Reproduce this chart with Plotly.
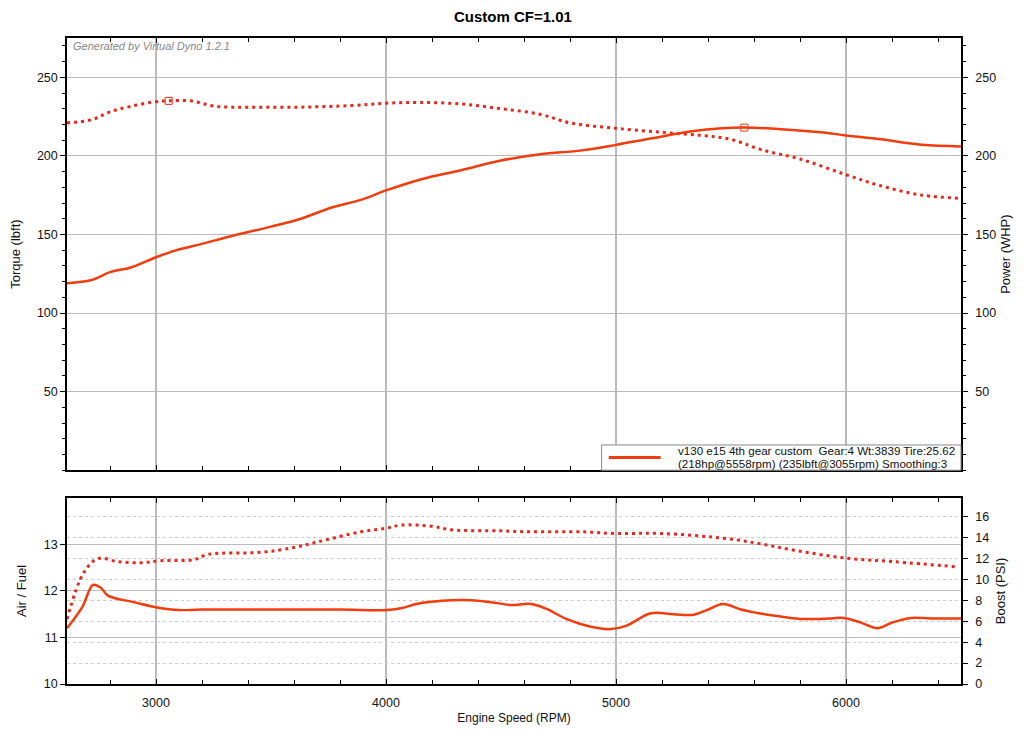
import plotly.graph_objects as go

# engine speed (rpm) and readings for the top panel
rpm_power = [2613, 2720, 2800, 2890, 3000, 3090, 3200, 3330, 3500, 3630, 3760, 3890, 4000,
             4150, 4330, 4500, 4670, 4850, 5000, 5150, 5330, 5460, 5558, 5720, 5890, 6000,
             6150, 6330, 6500]
power_whp = [119, 121, 126, 129, 135.5, 140, 144, 149, 155, 160, 167, 172, 178,
             185, 191, 197, 201, 203.5, 207, 211, 215.6, 217.5, 218, 217, 215, 213,
             210.5, 207, 206]

rpm_torque = [2613, 2720, 2800, 2890, 3000, 3055, 3150, 3260, 3410, 3630, 3850, 4000,
              4150, 4330, 4500, 4670, 4800, 5000, 5200, 5370, 5500, 5630, 5800, 6000,
              6150, 6330, 6500]
torque_lbft = [221, 223, 228, 231.5, 234.5, 235, 235, 231.5, 231, 231, 232, 233.5,
               234, 233, 230, 226.5, 221, 217.5, 215, 213, 210.5, 204, 198, 188,
               181, 175, 173]

# bottom panel: air/fuel ratio and boost
rpm_afr = [2613, 2680, 2726, 2760, 2791, 2904, 3009, 3096, 3200, 3500, 3800, 4000, 4065,
           4152, 4283, 4370, 4457, 4543, 4630, 4696, 4783, 4891, 4978, 5043, 5152,
           5250, 5339, 5400, 5465, 5543, 5600, 5700, 5800, 5935, 5991, 6065, 6139,
           6200, 6283, 6370, 6500]
air_fuel = [11.2, 11.66, 12.13, 12.07, 11.9, 11.76, 11.64, 11.59, 11.6, 11.6, 11.6, 11.59, 11.63,
            11.74, 11.8, 11.8, 11.76, 11.7, 11.72, 11.62, 11.4, 11.23, 11.18, 11.25, 11.52,
            11.5, 11.49, 11.6, 11.72, 11.6, 11.54, 11.46, 11.4, 11.41, 11.42, 11.32, 11.2,
            11.32, 11.42, 11.41, 11.41]

rpm_boost = [2613, 2687, 2748, 2835, 2935, 3022, 3165, 3226, 3457, 3600, 3704, 3891, 4000,
             4065, 4196, 4283, 4500, 4630, 4850, 5000, 5196, 5487, 5630, 5774, 5991,
             6209, 6487]
boost_psi = [6.2, 10.7, 12.0, 11.7, 11.6, 11.8, 11.9, 12.4, 12.6, 13.06, 13.6, 14.56, 14.9,
             15.2, 15.1, 14.75, 14.65, 14.56, 14.56, 14.4, 14.4, 13.9, 13.4, 12.8, 12.07,
             11.7, 11.2]

legend_lines = ["v130 e15 4th gear custom  Gear:4 Wt:3839 Tire:25.62",
                "(218hp@5558rpm) (235lbft@3055rpm) Smoothing:3"]

solid_red = "#F23C0E"
dot_red = "#E8261A"
dotted = "3px,4px"
font_name = "Liberation Sans, Arial"

fig = go.Figure()

fig.add_trace(go.Scatter(x=rpm_torque, y=torque_lbft, xaxis="x2", yaxis="y",
                         mode="lines", line=dict(color=dot_red, width=3, dash=dotted, shape="spline"),
                         showlegend=False))
fig.add_trace(go.Scatter(x=rpm_power, y=power_whp, xaxis="x2", yaxis="y2",
                         mode="lines", line=dict(color=solid_red, width=2.5, shape="spline"),
                         showlegend=False))
# peak markers
fig.add_trace(go.Scatter(x=[3055], y=[235], xaxis="x2", yaxis="y", mode="markers",
                         marker=dict(symbol="square-open", size=7, color=dot_red, line=dict(width=1)),
                         showlegend=False))
fig.add_trace(go.Scatter(x=[5558], y=[218], xaxis="x2", yaxis="y2", mode="markers",
                         marker=dict(symbol="square-open", size=7, color=solid_red, line=dict(width=1)),
                         showlegend=False))

fig.add_trace(go.Scatter(x=rpm_boost, y=boost_psi, xaxis="x", yaxis="y4",
                         mode="lines", line=dict(color=dot_red, width=3, dash=dotted, shape="spline"),
                         showlegend=False))
fig.add_trace(go.Scatter(x=rpm_afr, y=air_fuel, xaxis="x", yaxis="y3",
                         mode="lines", line=dict(color=solid_red, width=2.5, shape="spline"),
                         showlegend=False))

axis_font = dict(family=font_name, size=12.5, color="#111")
title_font = dict(family=font_name, size=13, color="#111")
x_range = [2613, 6500]

common_x = dict(range=x_range, tickvals=[3000, 4000, 5000, 6000], showgrid=True,
                gridcolor="#BBBBBB", gridwidth=1.5, showline=True, linecolor="black",
                linewidth=1.5, mirror="ticks", ticks="inside", ticklen=5, tickcolor="black",
                minor=dict(dtick=200, tick0=2600, ticks="inside", ticklen=4, tickcolor="black",
                           showgrid=False),
                zeroline=False, tickfont=axis_font, automargin=False)

y_common = dict(zeroline=False, showline=True, linecolor="black", linewidth=1.5,
                ticks="outside", ticklen=5, tickcolor="black", tickfont=axis_font,
                automargin=False)

# legend box drawn by hand so its size matches the original
leg_x0, leg_x1, leg_y0, leg_y1 = 0.598, 1.0, 0.331, 0.370
leg_mid = (leg_y0 + leg_y1) / 2

fig.update_layout(
    width=1010, height=722,
    paper_bgcolor="white", plot_bgcolor="white",
    margin=dict(l=59, r=57, t=30, b=46, autoexpand=False),
    title=dict(text="Custom CF=1.01", x=0.5, xanchor="center", y=0.995, yanchor="top",
               font=dict(family=font_name, size=15, color="#000", weight=600)),
    xaxis=dict(common_x, domain=[0, 1], anchor="y3", ticklabelstandoff=6,
               title=dict(text="Engine Speed (RPM)", font=dict(title_font, size=12), standoff=5)),
    xaxis2=dict(common_x, domain=[0, 1], anchor="y", showticklabels=False),
    yaxis=dict(y_common, domain=[0.331, 1], anchor="x2", range=[0, 275],
               tickvals=[50, 100, 150, 200, 250],
               showgrid=True, gridcolor="#BBBBBB", gridwidth=1.2,
               minor=dict(dtick=10, ticks="outside", ticklen=3, tickcolor="black", showgrid=False),
               title=dict(text="Torque (lbft)", font=title_font, standoff=14)),
    yaxis2=dict(y_common, overlaying="y", anchor="x2", side="right", range=[0, 275],
                tickvals=[50, 100, 150, 200, 250], showgrid=False, ticklabelstandoff=5,
                minor=dict(dtick=10, ticks="outside", ticklen=3, tickcolor="black"),
                title=dict(text="Power (WHP)", font=title_font, standoff=6)),
    yaxis3=dict(y_common, domain=[0, 0.288], anchor="x", range=[10, 14], tickvals=[10, 11, 12, 13],
                showgrid=True, gridcolor="#BBBBBB", gridwidth=1.2,
                title=dict(text="Air / Fuel", font=title_font, standoff=14)),
    yaxis4=dict(y_common, overlaying="y3", anchor="x", side="right", range=[0, 17.8],
                tickvals=[0, 2, 4, 6, 8, 10, 12, 14, 16], showgrid=True, gridcolor="#CCCCCC",
                griddash="dot", gridwidth=1, ticklabelstandoff=5,
                title=dict(text="Boost (PSI)", font=title_font, standoff=8)),
    showlegend=False,
    shapes=[
        dict(type="rect", xref="paper", yref="paper", x0=leg_x0, x1=leg_x1, y0=leg_y0, y1=leg_y1,
             fillcolor="white", line=dict(color="#888888", width=1), layer="above"),
        dict(type="line", xref="paper", yref="paper", x0=leg_x0 + 0.008, x1=leg_x0 + 0.066,
             y0=leg_mid, y1=leg_mid, line=dict(color=solid_red, width=3), layer="above"),
    ],
    annotations=[
        dict(text="<i>Generated by Virtual Dyno 1.2.1</i>", xref="paper", yref="paper",
             x=0.004, y=1.0, xanchor="left", yanchor="top", showarrow=False,
             font=dict(family=font_name, size=11, color="#888888")),
        dict(text=legend_lines[0], xref="paper", yref="paper", x=leg_x0 + 0.083, y=0.3607,
             xanchor="left", yanchor="middle", showarrow=False,
             font=dict(family=font_name, size=11.6, color="#111")),
        dict(text=legend_lines[1], xref="paper", yref="paper", x=leg_x0 + 0.083, y=0.3406,
             xanchor="left", yanchor="middle", showarrow=False,
             font=dict(family=font_name, size=11.6, color="#111")),
    ],
)

fig.write_html("out.html")
